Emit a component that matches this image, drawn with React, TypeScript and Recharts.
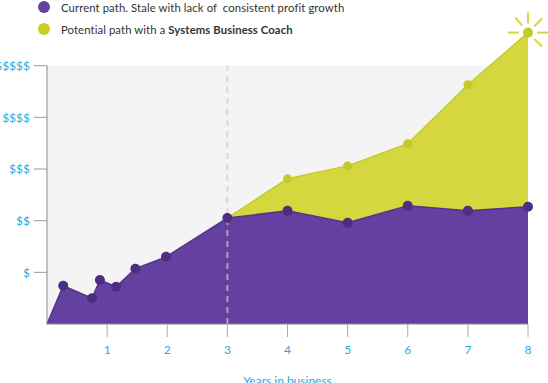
import * as React from "react";
import {
  AreaChart,
  Area,
  XAxis,
  YAxis,
  ReferenceArea,
  ReferenceLine,
} from "recharts";

// years in business (x) and the two paths (y, in "$" units)
const years = [0, 0.27, 0.75, 0.88, 1.15, 1.47, 1.98, 3, 4, 5, 6, 7, 8];
const currentPath = [0, 0.74, 0.5, 0.85, 0.72, 1.07, 1.3, 2.05, 2.19, 1.96, 2.29, 2.19, 2.27];
const potentialPath = [null, null, null, null, null, null, null, 2.05, 2.81, 3.06, 3.49, 4.63, 5.64];

const xTicks = [1, 2, 3, 4, 5, 6, 7, 8];
const yTicks = [1, 2, 3, 4, 5];
const yLabels = ["$", "$$", "$$$", "$$$$", "$$$$$"];

const PURPLE = "#6441a0";
const PURPLE_DARK = "#4f2d80";
const GREEN = "#d4d83e";
const GREEN_DARK = "#c3cb2a";
const BLUE = "#29abe2";
const FONT = "Lato, 'Open Sans', sans-serif";

const data = years.map((year, i) => ({
  year,
  current: currentPath[i],
  potential: potentialPath[i],
}));

const CurrentDot = (props: any) => {
  const { cx, cy, index } = props;
  if (index === 0 || cx == null || cy == null) return <g key={`c-${index}`} />;
  return <circle key={`c-${index}`} cx={cx} cy={cy} r={5} fill={PURPLE_DARK} />;
};

// the last point of the potential path gets little "shine" rays
const PotentialDot = (props: any) => {
  const { cx, cy, index, value } = props;
  if (cx == null || cy == null || value == null) return <g key={`p-${index}`} />;
  const last = index === data.length - 1;
  const angles = [0, 45, -45, -90, -130, 180];
  return (
    <g key={`p-${index}`}>
      {last &&
        angles.map((a) => {
          const rad = (a * Math.PI) / 180;
          return (
            <line
              key={a}
              x1={cx + 9 * Math.cos(rad)}
              y1={cy + 9 * Math.sin(rad)}
              x2={cx + 20 * Math.cos(rad)}
              y2={cy + 20 * Math.sin(rad)}
              stroke={GREEN}
              strokeWidth={2}
            />
          );
        })}
      <circle cx={cx} cy={cy} r={last ? 5 : 4.5} fill={GREEN_DARK} />
    </g>
  );
};

const legendItems = [
  { color: PURPLE, text: <>Current path. Stale with lack of&nbsp; consistent profit growth</> },
  { color: "#c8cf24", text: <>Potential path with a <b>Systems Business Coach</b></> },
];

export default function App() {
  return (
    <div style={{ position: "absolute", left: 0, top: 0, width: 548, height: 383, fontFamily: FONT }}>
      <AreaChart
        width={548}
        height={383}
        data={data}
        margin={{ top: 14, right: 20, left: 0, bottom: 0 }}
        style={{ fontFamily: FONT }}
      >
        <ReferenceArea x1={0} x2={8} y1={0} y2={5} fill="#f4f4f4" fillOpacity={1} stroke="none" />
        <XAxis
          dataKey="year"
          type="number"
          domain={[0, 8]}
          ticks={xTicks}
          height={59}
          tickSize={13}
          tickMargin={8}
          axisLine={{ stroke: "#888888" }}
          tickLine={{ stroke: "#aaaaaa" }}
          tick={{ fill: BLUE, fontSize: 12 }}
          label={{ value: "Years in business", position: "insideBottom", offset: -2, fill: BLUE, fontSize: 12 }}
        />
        <YAxis
          type="number"
          domain={[0, 6]}
          ticks={yTicks}
          width={47}
          tickSize={13}
          tickMargin={4}
          axisLine={false}
          tickLine={{ stroke: "#999999" }}
          tick={{ fill: BLUE, fontSize: 12 }}
          tickFormatter={(v: number) => yLabels[v - 1]}
        />
        <Area
          type="linear"
          dataKey="potential"
          stroke={GREEN_DARK}
          strokeWidth={1.5}
          fill={GREEN}
          fillOpacity={1}
          dot={PotentialDot}
          activeDot={false}
          isAnimationActive={false}
        />
        <Area
          type="linear"
          dataKey="current"
          stroke="#55338a"
          strokeWidth={1.5}
          fill={PURPLE}
          fillOpacity={1}
          dot={CurrentDot}
          activeDot={false}
          isAnimationActive={false}
        />
        <ReferenceLine
          segment={[{ x: 0, y: 0 }, { x: 0, y: 5 }]}
          stroke="#888888"
          strokeWidth={1}
        />
        <ReferenceLine
          segment={[{ x: 3, y: 0 }, { x: 3, y: 5 }]}
          stroke="#cccccc"
          strokeOpacity={0.7}
          strokeWidth={2}
          strokeDasharray="6 5"
        />
      </AreaChart>
      {legendItems.map((item, i) => (
        <div
          key={i}
          style={{
            position: "absolute",
            left: 38,
            top: 7 + i * 22 - 8,
            height: 16,
            display: "flex",
            alignItems: "center",
            fontSize: 11.3,
            letterSpacing: 0.1,
            color: "#333333",
            whiteSpace: "nowrap",
          }}
        >
          <span
            style={{
              display: "inline-block",
              width: 12,
              height: 12,
              borderRadius: "50%",
              background: item.color,
              marginRight: 11,
            }}
          />
          <span>{item.text}</span>
        </div>
      ))}
    </div>
  );
}
